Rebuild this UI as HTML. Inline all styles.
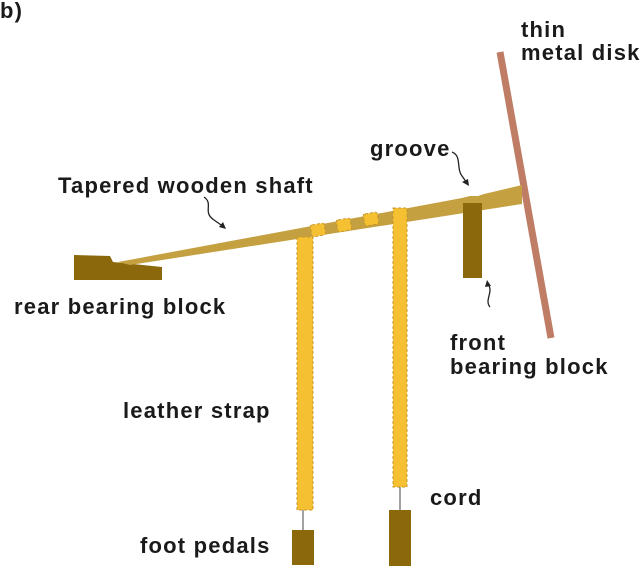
<!DOCTYPE html>
<html><head><style>
body{margin:0;background:#fff;width:640px;height:566px;overflow:hidden}
svg text{font-family:"Liberation Sans",sans-serif;font-weight:bold;font-size:22px;letter-spacing:1.2px;fill:#1a1a1a}
</style></head><body>
<svg width="640" height="566" viewBox="0 0 640 566">
<line x1="500" y1="52" x2="551" y2="338" stroke="#c07d66" stroke-width="7"/>
<polygon points="74,255 110,256 113,262 162,267 162,280 74,280" fill="#8b680c"/>
<polygon points="118,262 462,198 470,196 478,196 484,194 522,185 522,204 130,265" fill="#c4a040"/>
<rect x="463" y="203" width="19" height="75" fill="#8b680c"/>
<g fill="#f5c132" stroke="#c9962a" stroke-width="1" stroke-dasharray="3,2">
<rect x="297" y="237" width="16" height="273"/>
<rect x="393" y="208" width="14" height="279"/>
<rect x="311" y="224" width="14" height="12" rx="2" transform="rotate(-10 318 230)"/>
<rect x="337" y="219" width="14" height="12" rx="2" transform="rotate(-10 344 225)"/>
<rect x="364" y="213" width="14" height="12" rx="2" transform="rotate(-10 371 219)"/>
</g>
<line x1="303" y1="510" x2="303" y2="540" stroke="#444" stroke-width="1"/>
<line x1="400" y1="487" x2="400" y2="520" stroke="#444" stroke-width="1"/>
<rect x="292" y="530" width="22" height="35" fill="#8b680c"/>
<rect x="389" y="510" width="22" height="56" fill="#8b680c"/>
<path d="M204,197 C214,204 202,212 214,220 L224,227" fill="none" stroke="#222" stroke-width="1.3"/>
<polygon points="226,229 219,227 223,222" fill="#222"/>
<path d="M452,152 C462,156 456,168 462,176 L467,183" fill="none" stroke="#222" stroke-width="1.3"/>
<polygon points="469,186 462,182 468,179" fill="#222"/>
<path d="M490,307 C484,300 494,292 488,284" fill="none" stroke="#222" stroke-width="1.3"/>
<polygon points="487,280 485,287 491,286" fill="#222"/>
<text x="0" y="18">b)</text>
<text x="521" y="37">thin</text>
<text x="521" y="60">metal disk</text>
<text x="370" y="156">groove</text>
<text x="58" y="193">Tapered wooden shaft</text>
<text x="14" y="314">rear bearing block</text>
<text x="450" y="350">front</text>
<text x="450" y="374">bearing block</text>
<text x="123" y="418">leather strap</text>
<text x="430" y="505">cord</text>
<text x="140" y="553">foot pedals</text>
</svg>
</body></html>
